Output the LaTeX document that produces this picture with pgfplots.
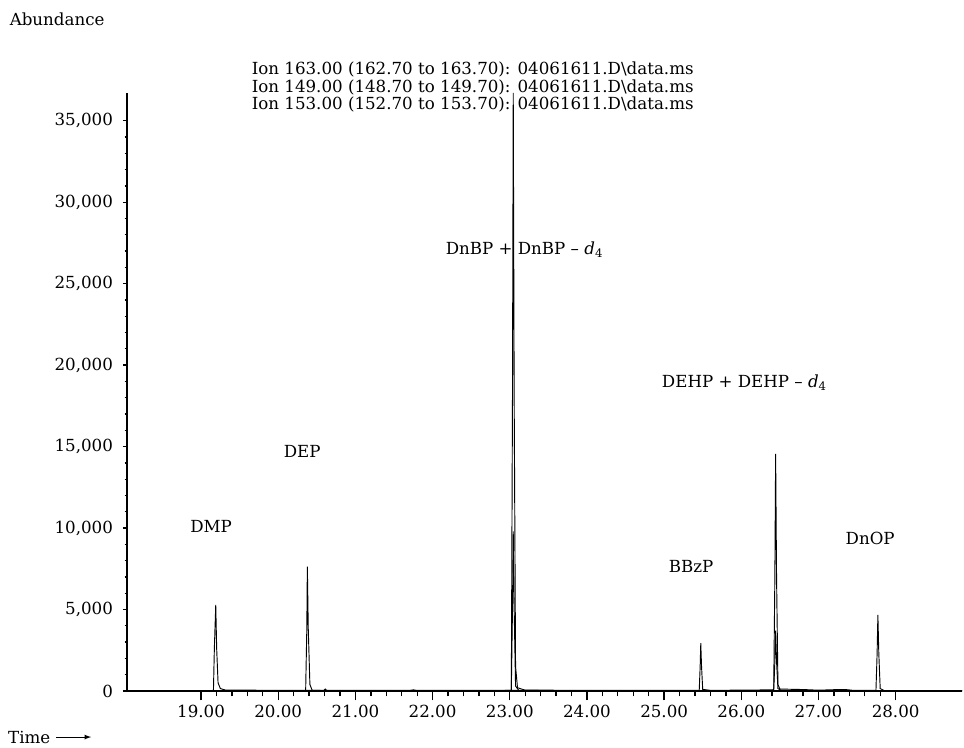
\documentclass[border=0pt]{standalone}
\usepackage{fontspec}
\setmainfont{DejaVu Serif}
\usepackage{pgfplots}
\pgfplotsset{compat=1.18}
\pgfplotstableread{
x y
18.04 20
19.50 20
20.30 20
20.355 20
20.37 3800
20.377 7640
20.389 3800
20.41 400
20.44 40
20.59 30
20.61 120
20.63 30
21.70 20
21.75 70
21.80 20
22.90 30
23.02 40
23.035 18000
23.045 36700
23.057 18000
23.075 1500
23.10 200
23.20 50
25.44 40
25.455 40
25.467 1500
25.475 2930
25.485 1500
25.50 100
25.60 40
26.20 60
26.42 80
26.435 7000
26.445 14560
26.457 7000
26.475 400
26.50 120
26.80 90
27.00 50
27.20 80
27.35 90
27.45 40
27.745 40
27.76 2300
27.77 4670
27.782 2300
27.80 150
27.85 30
28.86 20
}\ionAoneFourNine
\pgfplotstableread{
x y
18.04 10
19.16 10
19.172 2600
19.19 5280
19.202 2600
19.22 500
19.25 150
19.32 50
28.86 10
}\ionAoneSixThree
\pgfplotstableread{
x y
18.04 0
23.02 10
23.035 5000
23.045 9800
23.057 5000
23.075 300
23.12 20
26.42 20
26.435 1800
26.445 3700
26.457 1800
26.475 150
26.52 20
28.86 0
}\ionAoneFiveThree
\begin{document}
\begin{tikzpicture}[font=\fontsize{12.5}{15}\selectfont]
\begin{axis}[
  scale only axis, width=626.25pt, height=448.5pt,
  xmin=18.04, xmax=28.86, ymin=0, ymax=36700,
  axis x line=bottom, axis y line=left,
  axis line style={-, line width=0.9pt},
  xtick={19,20,...,28}, minor x tick num=4,
  ytick={0,5000,...,35000}, minor y tick num=4,
  tick align=outside,
  major tick length=7pt, minor tick length=4pt,
  xtick style={line width=1pt, black},
  ytick style={line width=1pt, black, /pgfplots/major tick length=3pt, /pgfplots/minor tick length=1.8pt},
  scaled y ticks=false, scaled x ticks=false,
  /pgf/number format/assume math mode=true,
  xticklabel style={/pgf/number format/.cd, fixed, fixed zerofill, precision=2},
  yticklabel style={/pgf/number format/.cd, fixed, 1000 sep={,}},
  clip=false,
]
\addplot[black, line width=0.7pt] table[x=x, y=y] {\ionAoneSixThree};
\addplot[black, line width=0.7pt] table[x=x, y=y] {\ionAoneFiveThree};
\addplot[black, line width=0.7pt] table[x=x, y=y] {\ionAoneFourNine};

\node[anchor=west] at (axis cs:19.596,38145) {Ion 163.00 (162.70 to 163.70): 04061611.D\textbackslash data.ms};
\node[anchor=west] at (axis cs:19.596,37040) {Ion 149.00 (148.70 to 149.70): 04061611.D\textbackslash data.ms};
\node[anchor=west] at (axis cs:19.596,35995) {Ion 153.00 (152.70 to 153.70): 04061611.D\textbackslash data.ms};

\node at (axis cs:19.13,10074) {DMP};
\node at (axis cs:20.31,14680) {DEP};
\node at (axis cs:23.19,27090) {DnBP + DnBP -- \textit{d}\textsubscript{4}};
\node at (axis cs:26.04,18920) {DEHP + DEHP -- \textit{d}\textsubscript{4}};
\node at (axis cs:25.35,7617) {BBzP};
\node at (axis cs:27.67,9337) {DnOP};

\node[anchor=west] (ab) at (axis cs:16.46,41216) {Abundance};
\node[anchor=west] (tm) at (axis cs:16.44,-2826) {Time};
\end{axis}
\draw[-latex, line width=0.7pt] ([xshift=1pt]tm.east) -- ++(26pt,0);
\pgfresetboundingbox
\path[use as bounding box] ([xshift=-95.25pt, yshift=-42pt]current axis.south west) rectangle ([xshift=1.5pt, yshift=69.75pt]current axis.north east);
\end{tikzpicture}
\end{document}
